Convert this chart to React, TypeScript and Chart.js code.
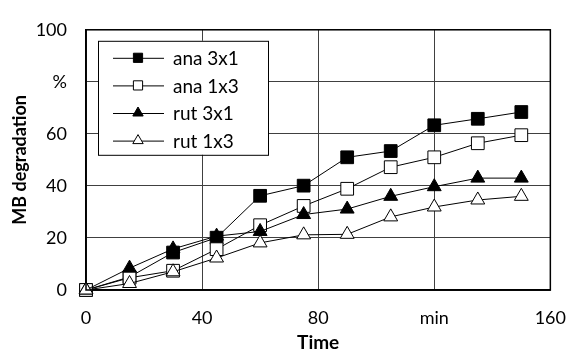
import React, { useEffect, useRef } from 'react';
import { Chart, registerables } from 'chart.js';

Chart.register(...registerables);

const times = [0, 15, 30, 45, 60, 75, 90, 105, 120, 135, 150];
const ana3x1 = [0, 5, 14.4, 20.1, 36.2, 40.1, 51, 53.4, 63.3, 65.8, 68.4];
const ana1x3 = [0, 4.7, 7.4, 15.7, 24.9, 32.3, 38.9, 47.2, 51, 56.4, 59.5];
const rut3x1 = [0, 8.4, 15.8, 20.7, 22.5, 29, 31.1, 36, 39.7, 43, 43];
const rut1x3 = [0, 2.5, 7, 12.3, 18.1, 21.2, 21.4, 28.1, 31.9, 34.6, 36];
const seriesLabels = ['ana 3x1', 'ana 1x3', 'rut 3x1', 'rut 1x3'];
const seriesValues = [ana3x1, ana1x3, rut3x1, rut1x3];
const seriesShapes = ['rect', 'rect', 'triangle', 'triangle'];
const seriesFill = ['#000000', '#ffffff', '#000000', '#ffffff'];
const xTickValues = [0, 40, 80, 120, 160];
const xTickLabels = ['0', '40', '80', 'min', '160'];
const yTickValues = [0, 20, 40, 60, 80, 100];
const yTickLabels = ['0', '20', '40', '60', '%', '100'];

const FONT = 'Lato, "Noto Sans", sans-serif';

function drawMarker(ctx: CanvasRenderingContext2D, shape: string, cx: number, cy: number, r: number, fill: string) {
  ctx.save();
  ctx.beginPath();
  if (shape === 'rect') {
    const h = Math.SQRT1_2 * r;
    ctx.rect(cx - h, cy - h, 2 * h, 2 * h);
  } else {
    ctx.moveTo(cx, cy - r);
    ctx.lineTo(cx + 0.866 * r, cy + 0.5 * r);
    ctx.lineTo(cx - 0.866 * r, cy + 0.5 * r);
    ctx.closePath();
  }
  ctx.fillStyle = fill;
  ctx.fill();
  ctx.strokeStyle = '#000';
  ctx.lineWidth = 1;
  ctx.stroke();
  ctx.restore();
}

const boxLegendPlugin = {
  id: 'boxLegend',
  afterDraw(chart: any) {
    const { ctx, chartArea } = chart;
    ctx.save();
    ctx.strokeStyle = '#000';
    ctx.lineWidth = 1.5;
    ctx.strokeRect(chartArea.left, chartArea.top, chartArea.right - chartArea.left, chartArea.bottom - chartArea.top);
    const bx = chartArea.left + 12;
    const by = chartArea.top + 11;
    const bw = 170;
    const bh = 114;
    ctx.fillStyle = '#fff';
    ctx.fillRect(bx, by, bw, bh);
    ctx.strokeStyle = '#000';
    ctx.lineWidth = 1;
    ctx.strokeRect(bx + 0.5, by + 0.5, bw, bh);
    const datasets = chart.data.datasets;
    for (let i = 0; i < datasets.length; i++) {
      const ds = datasets[i];
      const cy = by + 17 + i * 27.6;
      ctx.beginPath();
      ctx.moveTo(bx + 15, cy + 0.5);
      ctx.lineTo(bx + 66, cy + 0.5);
      ctx.strokeStyle = '#000';
      ctx.lineWidth = 1;
      ctx.stroke();
      drawMarker(ctx, ds.pointStyle, bx + 40, cy, ds.pointStyle === 'rect' ? 6.5 : 6, ds.pointBackgroundColor);
      ctx.fillStyle = '#000';
      ctx.font = '19px ' + FONT;
      ctx.textBaseline = 'middle';
      ctx.textAlign = 'left';
      ctx.fillText(ds.label, bx + 75, cy + 1);
    }
    ctx.restore();
  },
};

export default function App() {
  const ref = useRef<HTMLCanvasElement>(null);
  useEffect(() => {
    if (!ref.current) return;
    const datasets = seriesLabels.map((label, s) => ({
      label,
      data: times.map((t, i) => ({ x: t, y: seriesValues[s][i] })),
      borderColor: '#000',
      borderWidth: 1,
      pointStyle: seriesShapes[s],
      pointRadius: seriesShapes[s] === 'rect' ? 9 : 8,
      pointBackgroundColor: seriesFill[s],
      pointBorderColor: '#000',
      pointBorderWidth: 1,
      tension: 0,
      fill: false,
      clip: false,
      order: seriesLabels.length - 1 - s,
    }));
    const chart = new Chart(ref.current, {
      type: 'line',
      data: { datasets: datasets as any },
      plugins: [boxLegendPlugin],
      options: {
        animation: false,
        responsive: false,
        layout: { padding: { top: 20, right: 19, left: 0, bottom: 0 } },
        plugins: { legend: { display: false }, tooltip: { enabled: false } },
        scales: {
          x: {
            type: 'linear',
            min: 0,
            max: 160,
            afterBuildTicks: (scale: any) => {
              scale.ticks = xTickValues.map((v) => ({ value: v }));
            },
            afterFit: (scale: any) => {
              scale.height = 61;
            },
            ticks: {
              color: '#000',
              font: { family: FONT, size: 18 },
              padding: 17,
              maxRotation: 0,
              callback: (v: any) => xTickLabels[xTickValues.indexOf(Number(v))] ?? '',
            },
            grid: { color: '#404040', lineWidth: 1, drawTicks: false },
            border: { display: true, color: '#000', width: 1.5 },
            title: {
              display: true,
              text: 'Time',
              color: '#000',
              font: { family: FONT, size: 19, weight: 'bold' },
              padding: { top: 0, bottom: -3 },
            },
          },
          y: {
            type: 'linear',
            min: 0,
            max: 100,
            afterBuildTicks: (scale: any) => {
              scale.ticks = yTickValues.map((v) => ({ value: v }));
            },
            afterFit: (scale: any) => {
              scale.width = 86;
            },
            ticks: {
              color: '#000',
              font: { family: FONT, size: 18 },
              padding: 19,
              callback: (v: any) => yTickLabels[yTickValues.indexOf(Number(v))] ?? '',
            },
            grid: { color: '#404040', lineWidth: 1, drawTicks: false },
            border: { display: true, color: '#000', width: 1.5 },
            title: {
              display: true,
              text: 'MB degradation',
              color: '#000',
              font: { family: FONT, size: 18, weight: 'bold' },
              padding: { top: 9, bottom: 0 },
            },
          },
        },
      } as any,
    });
    return () => chart.destroy();
  }, []);
  return (
    <div style={{ position: 'fixed', left: 0, top: 0, width: 583, height: 351, background: '#fff' }}>
      <canvas ref={ref} width={583} height={351} />
    </div>
  );
}
